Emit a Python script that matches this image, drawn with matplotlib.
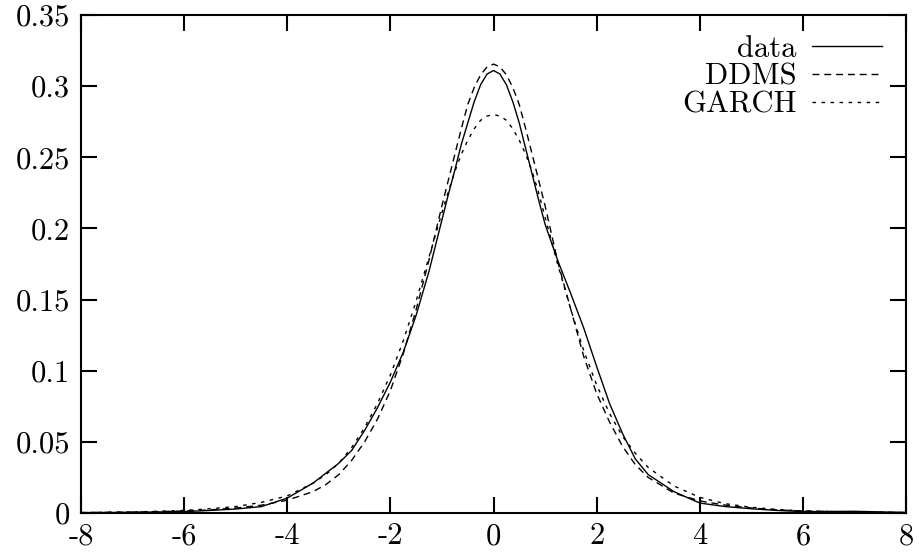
import numpy as np
import matplotlib
matplotlib.use('Agg')
import matplotlib.pyplot as plt

# density curves
x = [-8, -7, -6, -5.5, -5, -4.5, -4, -3.5, -3.25, -3, -2.75, -2.5, -2.25, -2,
     -1.75, -1.5, -1.25, -1, -0.875, -0.75, -0.625, -0.5, -0.375, -0.25,
     -0.125, 0, 0.125, 0.25, 0.375, 0.5, 0.625, 0.75, 0.875, 1, 1.25, 1.5,
     1.75, 2, 2.25, 2.5, 2.75, 3, 3.5, 4, 4.5, 5, 5.5, 6, 7, 8]

data = [0.0002, 0.0005, 0.001, 0.0018, 0.0028, 0.0045, 0.0105, 0.021, 0.028,
        0.035, 0.044, 0.058, 0.074, 0.092, 0.113, 0.139, 0.170, 0.206, 0.224,
        0.241, 0.259, 0.274, 0.289, 0.301, 0.3085, 0.311, 0.3085, 0.301,
        0.289, 0.274, 0.256, 0.238, 0.220, 0.203, 0.177, 0.154, 0.130, 0.103,
        0.077, 0.056, 0.038, 0.027, 0.015, 0.007, 0.0045, 0.003, 0.0018,
        0.001, 0.0012, 0.0004]

ddms = [0.0003, 0.0006, 0.0014, 0.0022, 0.0035, 0.0055, 0.009, 0.015, 0.020,
        0.027, 0.037, 0.050, 0.066, 0.086, 0.112, 0.143, 0.178, 0.216, 0.234,
        0.252, 0.270, 0.287, 0.299, 0.308, 0.3135, 0.3155, 0.3135, 0.308,
        0.299, 0.287, 0.270, 0.252, 0.234, 0.216, 0.176, 0.143, 0.110, 0.084,
        0.064, 0.047, 0.034, 0.025, 0.014, 0.0085, 0.0055, 0.0035, 0.0022,
        0.0014, 0.0006, 0.0003]

garch = [0.0003, 0.0007, 0.0018, 0.003, 0.0045, 0.0075, 0.012, 0.021, 0.027,
         0.035, 0.046, 0.060, 0.077, 0.097, 0.121, 0.149, 0.180, 0.211, 0.226,
         0.240, 0.252, 0.262, 0.270, 0.276, 0.279, 0.280, 0.279, 0.276,
         0.270, 0.262, 0.252, 0.240, 0.225, 0.208, 0.174, 0.143, 0.114, 0.090,
         0.070, 0.054, 0.042, 0.032, 0.019, 0.011, 0.0065, 0.004, 0.0025,
         0.0015, 0.0006, 0.0003]

xticks = [-8, -6, -4, -2, 0, 2, 4, 6, 8]
yticks = [0, 0.05, 0.1, 0.15, 0.2, 0.25, 0.3, 0.35]
ylabels = ['0', '0.05', '0.1', '0.15', '0.2', '0.25', '0.3', '0.35']

plt.rcParams['font.family'] = 'serif'
plt.rcParams['font.serif'] = ['cmr10', 'DejaVu Serif']
plt.rcParams['axes.unicode_minus'] = False
plt.rcParams['axes.formatter.use_mathtext'] = False

fig = plt.figure(figsize=(9.19, 5.6), dpi=100)
ax = fig.add_axes([0.0881, 0.0839, 0.8978, 0.8893])

ax.plot(x, data, color='black', lw=1.0, label='data')
ax.plot(x, ddms, color='black', lw=1.0, dashes=(5, 3.5), label='DDMS')
ax.plot(x, garch, color='black', lw=1.0, dashes=(2.5, 4), label='GARCH')

ax.set_xlim(-8, 8)
ax.set_ylim(0, 0.35)
ax.set_xticks(xticks)
ax.set_xticklabels([str(t) for t in xticks])
ax.set_yticks(yticks)
ax.set_yticklabels(ylabels)
ax.tick_params(direction='in', length=11.5, width=1.5, top=True, right=True,
               labelsize=22)
ax.tick_params(axis='x', pad=7)
ax.tick_params(axis='y', pad=8)
for s in ax.spines.values():
    s.set_linewidth(1.5)

leg = ax.legend(loc='upper right', bbox_to_anchor=(0.971, 0.959), frameon=False,
                markerfirst=False, alignment='right', fontsize=22,
                handlelength=2.3, handletextpad=0.5, labelspacing=0.02,
                borderpad=0, borderaxespad=0)

fig.savefig('out.png', dpi=100)
